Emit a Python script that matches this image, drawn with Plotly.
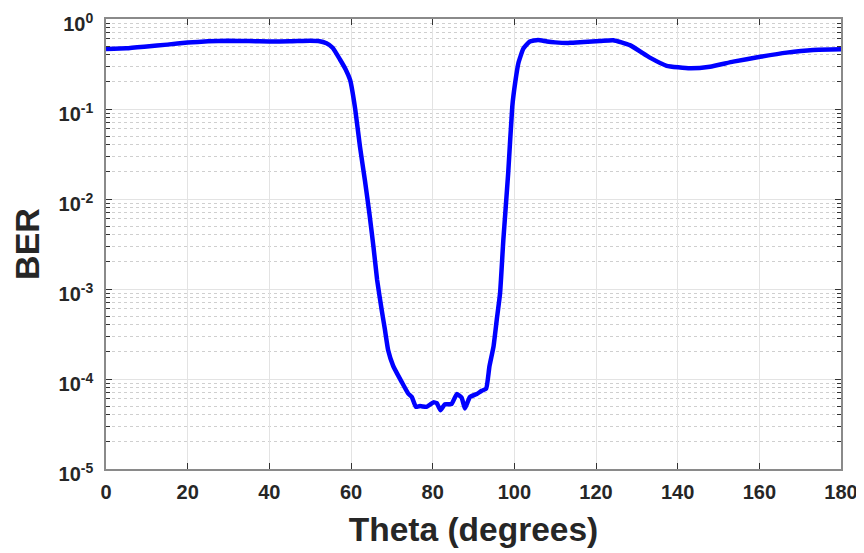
import plotly.graph_objects as go

theta = [0, 5, 10, 15, 20, 25, 30, 35, 40, 45, 50, 52, 54, 55.5, 57.3, 58.7, 59.8, 61.0, 62.2, 63.4,
         64.5, 65.5, 66.4, 67.5, 68.3, 69.1, 70.3, 71.2, 72.4, 74, 74.9, 75.9, 76.9, 78.5, 79.5,
         80.2, 81, 81.9, 83, 84.6, 85.9, 87.1, 87.9, 89.1, 90.8, 92, 93.1, 93.9, 94.9, 95.7, 96.5,
         97.3, 98.5, 99.5, 100.2, 101.0, 102.2, 103.8, 105.8, 108, 110, 113.6, 117, 121, 124.2,
         128.3, 133.2, 137.3, 143, 147.9, 153.6, 160.2, 166.7, 173.2, 180]
ber = [0.4645, 0.473, 0.495, 0.519, 0.547, 0.565, 0.573, 0.569, 0.562, 0.565, 0.575, 0.569, 0.537,
       0.479, 0.355, 0.275, 0.209, 0.102, 0.038, 0.0162,
       0.00692, 0.00295, 0.00126, 5.9e-4, 3.55e-4, 2.09e-4, 1.41e-4, 1.17e-4, 9.3e-5, 6.9e-5, 6.3e-5,
       4.9e-5, 5.0e-5, 4.9e-5, 5.25e-5,
       5.5e-5, 5.4e-5, 4.5e-5, 5.25e-5, 5.25e-5, 6.8e-5, 6.2e-5, 4.7e-5, 6.3e-5, 6.8e-5, 7.4e-5,
       7.8e-5, 1.38e-4, 2.29e-4, 4.57e-4, 8.9e-4,
       0.00347, 0.0195, 0.107, 0.195, 0.324, 0.468, 0.562, 0.585, 0.562, 0.550, 0.543, 0.556, 0.569,
       0.582, 0.513, 0.372, 0.302, 0.283, 0.295, 0.336, 0.380, 0.423, 0.453, 0.460]

x_ticks = [0, 20, 40, 60, 80, 100, 120, 140, 160, 180]
y_ticks = [1e-5, 1e-4, 1e-3, 1e-2, 1e-1, 1e0]
y_ticktext = ["10<sup>-5</sup>", "10<sup>-4</sup>", "10<sup>-3</sup>", "10<sup>-2</sup>",
              "10<sup>-1</sup>", "10<sup>0</sup>"]

fig = go.Figure()
fig.add_trace(go.Scatter(x=theta, y=ber, mode="lines",
                         line=dict(color="#0000FF", width=4.5, shape="spline", smoothing=0.4),
                         showlegend=False))

font_family = "Liberation Sans, Arial, sans-serif"
txt_color = "#262626"
axis_common = dict(
    showline=True, linecolor="#8a8a8a", linewidth=1.5, mirror="ticks",
    ticks="inside", ticklen=6, tickcolor="#333333", tickwidth=1,
    showgrid=True, gridcolor="#e3e3e3", gridwidth=1, zeroline=False,
    tickfont=dict(family=font_family, size=20, color=txt_color),
    automargin=False, ticklabeloverflow="allow",
)

fig.update_xaxes(
    range=[0, 180], tickvals=x_ticks, ticktext=[f"<b>{v}</b>" for v in x_ticks],
    ticklabelstandoff=4,
    title=dict(text="<b>Theta (degrees)</b>", font=dict(family=font_family, size=33.5, color=txt_color),
               standoff=16),
    **axis_common,
)
fig.update_yaxes(
    type="log", range=[-5, 0], tickvals=y_ticks, ticktext=[f"<b>{t}</b>" for t in y_ticktext],
    ticklabelstandoff=7, ticklabelshift=5,
    title=dict(text="<b>BER</b>", font=dict(family=font_family, size=34, color=txt_color),
               standoff=10),
    minor=dict(ticks="inside", ticklen=4, tickcolor="#333333", dtick="D1",
               showgrid=True, gridcolor="#cfcfcf", griddash="dot", gridwidth=1),
    **axis_common,
)

# The page body has an 8px default margin, so the figure is sized/offset to compensate.
fig.update_layout(
    width=856, height=545,
    margin=dict(l=98, r=23, t=11, b=84),
    paper_bgcolor="white", plot_bgcolor="white",
    font=dict(family=font_family),
)

fig.write_html("out.html")
